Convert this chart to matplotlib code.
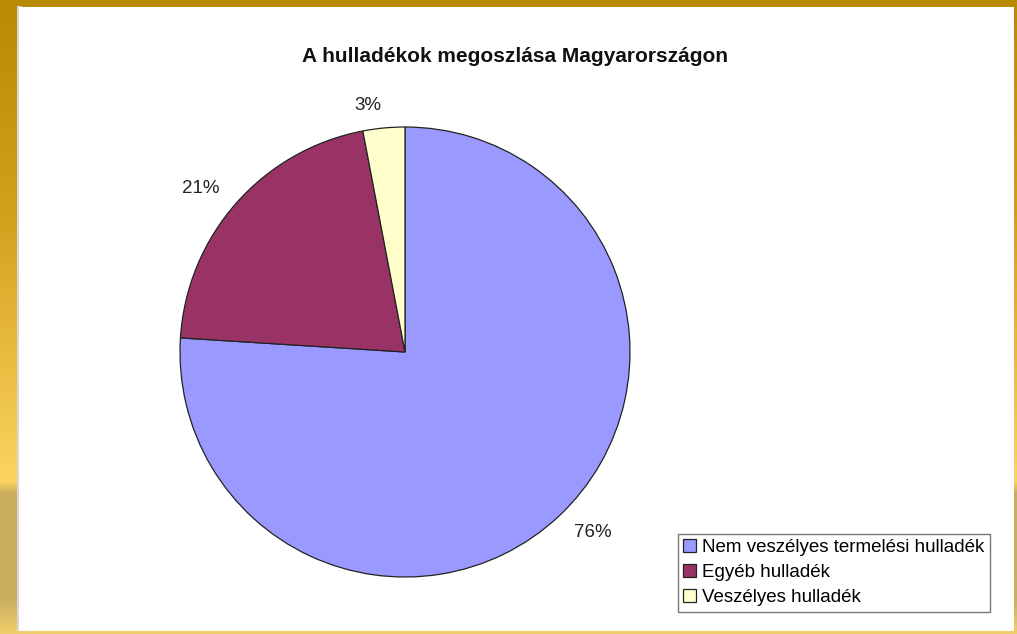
import numpy as np
import matplotlib
matplotlib.use('Agg')
import matplotlib.pyplot as plt
from matplotlib.patches import Rectangle
from matplotlib.colors import LinearSegmentedColormap

# =============================================================================
# DATA
# =============================================================================
TITLE = "A hulladékok megoszlása Magyarországon"
categories = ["Nem veszélyes termelési hulladék", "Egyéb hulladék", "Veszélyes hulladék"]
shares = [76, 21, 3]
pct_labels = ["76%", "21%", "3%"]

# =============================================================================
# STYLE
# =============================================================================
COLORS = ['#9999FF', '#993366', '#FFFFCC']
FONT = ['Liberation Sans', 'DejaVu Sans']
W, H = 1017, 634

plt.rcParams['font.family'] = FONT

fig = plt.figure(figsize=(W / 100, H / 100), dpi=100)

# gold frame: vertical gradient behind everything
bg = fig.add_axes([0, 0, 1, 1], zorder=-10)
gold = LinearSegmentedColormap.from_list(
    'gold', [(0.0, '#B98A04'), (0.35, '#D4A11E'), (0.76, '#FCD460'),
             (0.78, '#C9AC5C'), (0.95, '#CBB062'), (1.0, '#F0CE6A')])
grad = np.linspace(0, 1, 256).reshape(-1, 1)
bg.imshow(grad, cmap=gold, aspect='auto', extent=[0, 1, 0, 1], origin='upper')
bg.set_axis_off()

# white panel with a light shadow on the left
fig.patches.append(Rectangle((17 / W, 3 / H), 5 / W, 625 / H, transform=fig.transFigure,
                             facecolor='#D8D8D8', edgecolor='none', zorder=-5))
fig.patches.append(Rectangle((19 / W, 3 / H), 995 / W, 624 / H, transform=fig.transFigure,
                             facecolor='white', edgecolor='none', zorder=-4))

# =============================================================================
# PIE
# =============================================================================
ax = fig.add_axes([180 / W, 1 - 577 / H, 450 / W, 450 / H])
wedges, texts = ax.pie(shares, colors=COLORS, labels=pct_labels,
                       startangle=90, counterclock=False,
                       labeldistance=1.10,
                       wedgeprops=dict(edgecolor='#222222', linewidth=0.9),
                       textprops=dict(fontsize=13.5, color='#222222'))
ax.set_xlim(-1, 1)
ax.set_ylim(-1, 1)
ax.set_aspect('equal')

fig.text(515 / W, 1 - 57 / H, TITLE, ha='center', va='center',
         fontsize=15, fontweight='bold', color='#111111')

leg = fig.legend(wedges, categories, loc='lower right',
                 bbox_to_anchor=(990 / W, 1 - 612 / H),
                 fontsize=13.5, frameon=True, fancybox=False,
                 edgecolor='#555555', handlelength=0.7, handleheight=0.7,
                 handletextpad=0.3, borderpad=0.3, labelspacing=0.42,
                 borderaxespad=0)
leg.get_frame().set_linewidth(1.0)

fig.savefig('out.png', dpi=100)
print("plot.py — Done")
